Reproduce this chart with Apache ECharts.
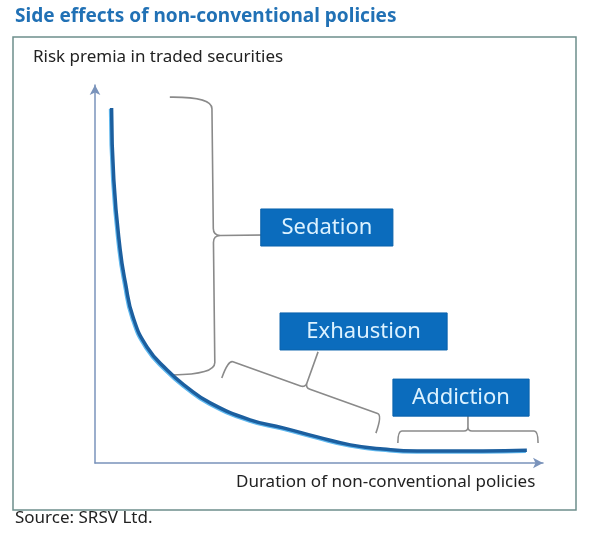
<!DOCTYPE html>
<html><head><meta charset="utf-8">
<script src="https://cdn.jsdelivr.net/npm/echarts@6/dist/echarts.min.js"></script>
<style>html,body{margin:0;padding:0;background:#fff}#c{width:600px;height:540px}</style>
</head><body><div id="c"></div>
<script>
// ---- data (values in axis units, 0..100) ----
const curveX = [3.7, 4.2, 5.6, 6.8, 8.5, 11.6, 16.1, 20.5, 25.7, 34.6, 42.0, 49.6, 57.0, 64.3, 71.9, 79.2, 86.6, 96.4];
const curveY = [93.9, 74.9, 56.6, 47.6, 38.6, 30.7, 24.6, 20.1, 15.9, 11.4, 9.3, 6.9, 4.8, 3.7, 3.2, 3.2, 3.2, 3.4];
const phaseLabels = ['Sedation', 'Exhaustion', 'Addiction'];
// label boxes: left, top, right, bottom (axis units)
const boxX1 = [37.0, 41.3, 66.5];
const boxY1 = [67.2, 39.7, 22.2];
const boxX2 = [66.5, 78.6, 96.9];
const boxY2 = [57.4, 29.9, 12.4];
// brace end points (axis units)
const braceX1 = [16.7, 28.3, 67.6];
const braceY1 = [96.8, 22.5, 5.3];
const braceX2 = [17.4, 62.7, 98.9];
const braceY2 = [23.3, 7.9, 5.3];
const titleText = 'Side effects of non-conventional policies';
const yAxisTitle = 'Risk premia in traded securities';
const xAxisTitle = 'Duration of non-conventional policies';
const sourceText = 'Source: SRSV Ltd.';

// ---- styles (pixels) ----
const braceGeom = [ {d1: 42, d2: 82, r: 12, rt: 7}, {d1: 19, d2: 38, r: 5, rt: 5}, {d1: 12, d2: 25, r: 4, rt: 4} ];
const FONT = '"Noto Sans", "Open Sans", sans-serif';

const chart = echarts.init(document.getElementById('c'), null, {renderer: 'canvas'});

function bracePath(p1, p2, g) {
  const dx = p2[0] - p1[0], dy = p2[1] - p1[1];
  const len = Math.hypot(dx, dy);
  const tx = dx / len, ty = dy / len;
  const P = (b, a, k) => [b[0] + a[0] * k, b[1] + a[1] * k];
  const t = [tx, ty], n = [ty, -tx];
  const c1 = P(p1, n, g.d1), c2 = P(p2, n, g.d1);
  const s1 = P(c1, t, g.r), s2 = P(c2, t, -g.r);
  const m = [(c1[0] + c2[0]) / 2, (c1[1] + c2[1]) / 2];
  const tip = P(m, n, g.d2);
  const ma = P(m, t, -g.rt), mb = P(m, t, g.rt), mn = P(m, n, g.rt);
  const f = p => p[0].toFixed(2) + ' ' + p[1].toFixed(2);
  return 'M ' + f(p1) + ' Q ' + f(c1) + ' ' + f(s1) + ' L ' + f(ma) + ' Q ' + f(m) + ' ' + f(mn) + ' L ' + f(tip) +
         ' M ' + f(p2) + ' Q ' + f(c2) + ' ' + f(s2) + ' L ' + f(mb) + ' Q ' + f(m) + ' ' + f(mn) + ' L ' + f(tip);
}

const curveData = curveX.map((x, i) => [x, curveY[i]]);
const boxData = phaseLabels.map((l, i) => [boxX1[i], boxY1[i], boxX2[i], boxY2[i], l]);
const braceData = braceX1.map((x, i) => [x, braceY1[i], braceX2[i], braceY2[i]]);

const option = {
  animation: false,
  backgroundColor: '#ffffff',
  grid: {left: 95, right: 57, top: 85, bottom: 77, containLabel: false},
  xAxis: {
    type: 'value', min: 0, max: 100,
    axisLine: {show: true, symbol: ['none', 'arrow'], symbolSize: [8, 10], lineStyle: {color: '#7a93bb', width: 1.5}},
    axisTick: {show: false}, axisLabel: {show: false}, splitLine: {show: false}
  },
  yAxis: {
    type: 'value', min: 0, max: 100,
    axisLine: {show: true, symbol: ['none', 'arrow'], symbolSize: [8, 10], lineStyle: {color: '#7a93bb', width: 1.5}},
    axisTick: {show: false}, axisLabel: {show: false}, splitLine: {show: false}
  },
  graphic: [
    {type: 'rect', shape: {x: 13, y: 37, width: 563, height: 473}, style: {fill: null, stroke: '#6e8f8c', lineWidth: 1.5}, z: 0},
    {type: 'text', left: 15, top: 7, style: {text: titleText, font: 'bold 19px ' + FONT, fill: '#2171b5'}},
    {type: 'text', left: 33, top: 49, style: {text: yAxisTitle, font: '17px ' + FONT, fill: '#222'}},
    {type: 'text', left: 236, top: 474, style: {text: xAxisTitle, font: '17px ' + FONT, fill: '#222'}},
    {type: 'text', left: 15, top: 510, style: {text: sourceText, font: '17px ' + FONT, fill: '#222'}}
  ],
  series: [
    {
      type: 'line', data: curveData, smooth: 0.5, symbol: 'none',
      lineStyle: {color: '#1c5f9f', width: 3.5, shadowColor: '#5fb8ef', shadowBlur: 0, shadowOffsetX: -1, shadowOffsetY: 1},
      z: 3
    },
    {
      type: 'custom', data: braceData, z: 2,
      renderItem: function (params, api) {
        const p1 = api.coord([api.value(0), api.value(1)]);
        const p2 = api.coord([api.value(2), api.value(3)]);
        return {type: 'path', shape: {pathData: bracePath(p1, p2, braceGeom[params.dataIndex])},
                style: {fill: null, stroke: '#8a8a8a', lineWidth: 1.6}};
      }
    },
    {
      type: 'custom', data: boxData, z: 4,
      renderItem: function (params, api) {
        const a = api.coord([api.value(0), api.value(1)]);
        const b = api.coord([api.value(2), api.value(3)]);
        const label = phaseLabels[params.dataIndex];
        return {type: 'group', children: [
          {type: 'rect', shape: {x: a[0], y: a[1], width: b[0] - a[0], height: b[1] - a[1]},
           style: {fill: '#0b6cbd', stroke: '#0a62ad', lineWidth: 1}},
          {type: 'text', x: (a[0] + b[0]) / 2, y: (a[1] + b[1]) / 2,
           style: {text: label, font: '22px ' + FONT, fill: '#dcf2ff', align: 'center', verticalAlign: 'middle'}}
        ]};
      }
    }
  ]
};
chart.setOption(option);
</script></body></html>
